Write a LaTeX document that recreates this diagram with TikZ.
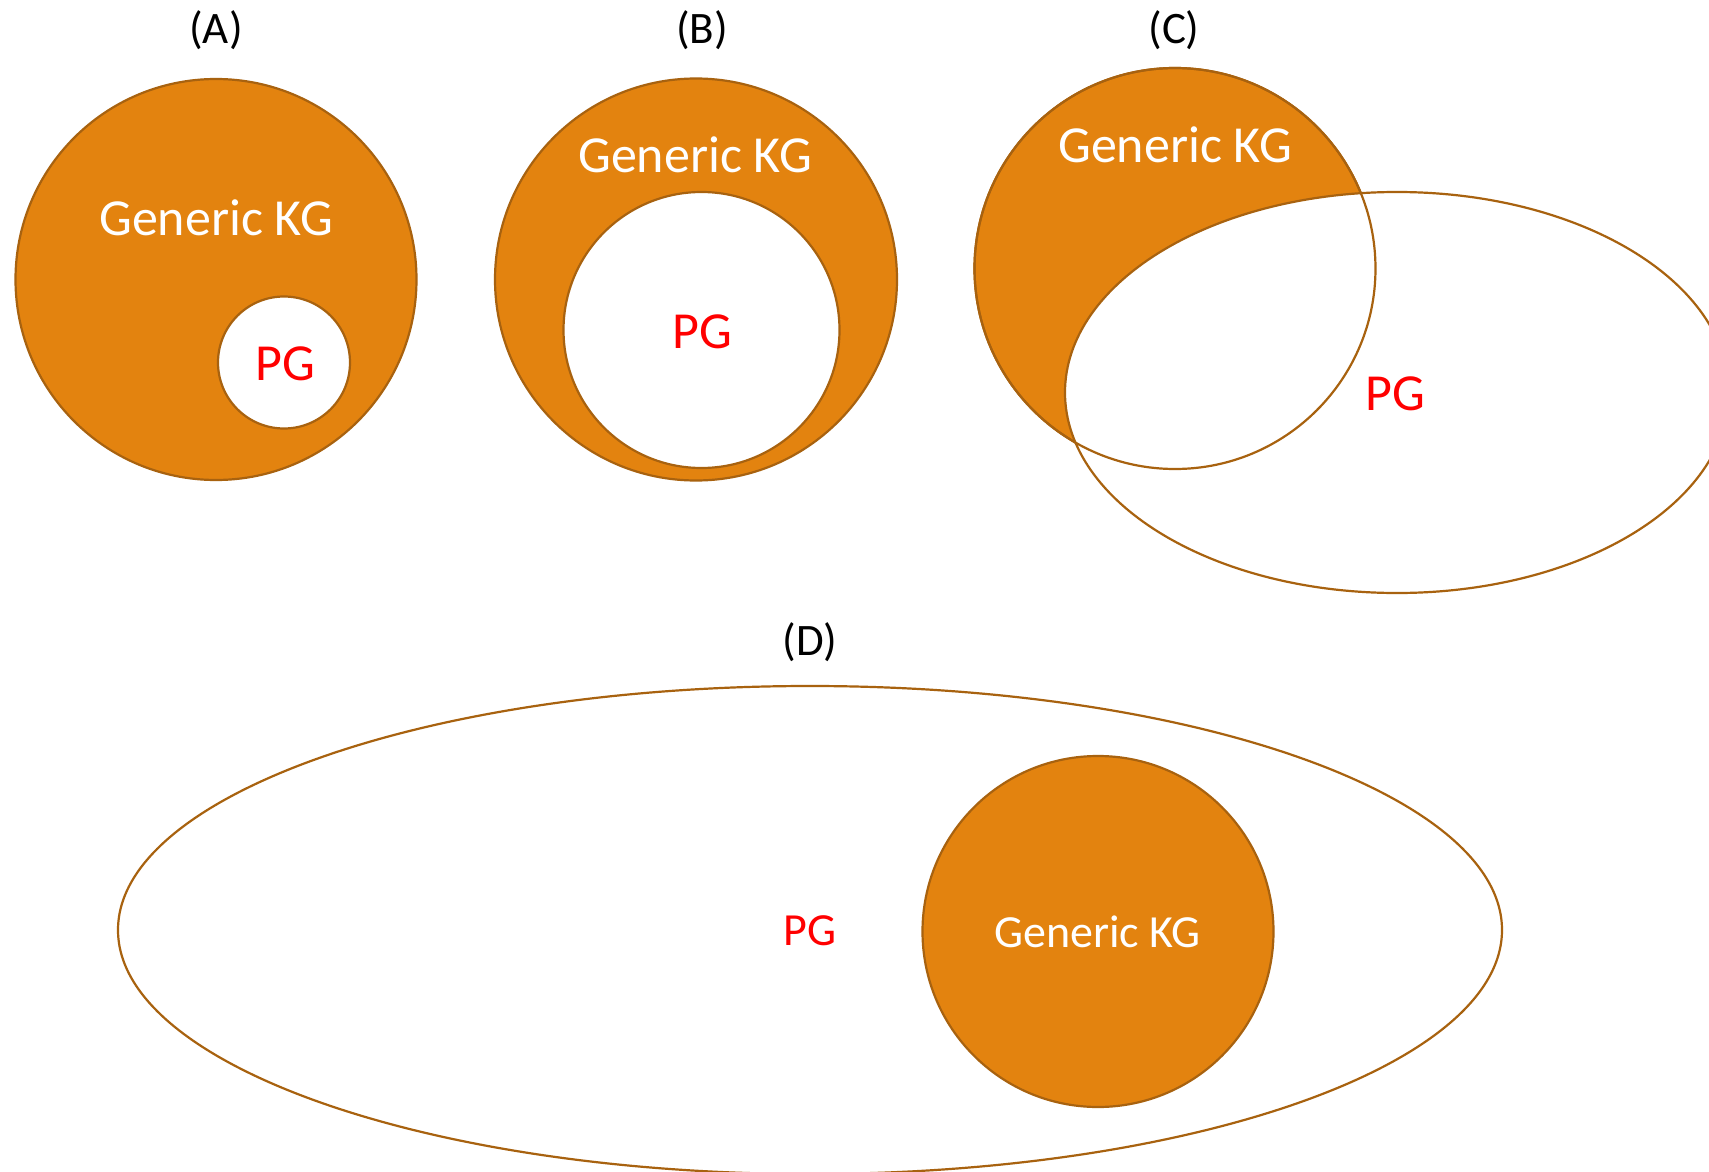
\documentclass[tikz,border=0pt]{standalone}
\usepackage{fontspec}
\setmainfont{Carlito}
\usetikzlibrary{shapes.geometric}

\definecolor{kgfill}{HTML}{E3830F}
\definecolor{kgline}{HTML}{A8620F}
\definecolor{pgred}{HTML}{FF0000}

\tikzset{
  outline/.style={draw=kgline, line width=2.2pt},
  kgdisc/.style={circle, outline, fill=kgfill, inner sep=0pt, minimum size=#1},
  pgdisc/.style={circle, outline, fill=white, inner sep=0pt, minimum size=#1},
  rim/.style={circle, outline, inner sep=0pt, minimum size=#1},
  pgoval/.style 2 args={ellipse, outline, fill=white, inner sep=0pt,
    minimum width=#1, minimum height=#2},
  kgtext/.style={text=white, inner sep=0pt, anchor=base,
    font=\fontsize{#1}{#1}\selectfont},
  pgtext/.style={text=pgred, inner sep=0pt, anchor=base,
    font=\fontsize{#1}{#1}\selectfont},
  caption/.style={text=black, inner sep=0pt,
    font=\fontsize{45}{45}\selectfont},
}

\begin{document}
\begin{tikzpicture}[x=1pt, y=-1pt]
  \useasboundingbox (0,0) rectangle (1709,1172);
  \fill[white] (0,0) rectangle (1709,1172);
  \clip (0,0) rectangle (1709,1172);

  % (A) a small PG inside the generic KG
  \node[caption] (capA) at (216,30) {(A)};
  \node[kgdisc=401pt] (kgA) at (216,279.5) {};
  \node[pgdisc=132pt] (pgA) at (284,362.5) {};
  \node[kgtext=52] (kgAlabel) at (216,235) {Generic KG};
  \node[pgtext=52] (pgAlabel) at (285,380) {PG};

  % (B) a large PG inside the generic KG
  \node[caption] (capB) at (702,30) {(B)};
  \node[kgdisc=402pt] (kgB) at (696,279.5) {};
  \node[pgdisc=276pt] (pgB) at (701.5,330) {};
  \node[kgtext=52] (kgBlabel) at (695,172) {Generic KG};
  \node[pgtext=52] (pgBlabel) at (702.5,348) {PG};

  % (C) PG and generic KG overlap
  \node[caption] (capC) at (1174,30) {(C)};
  \node[kgdisc=401pt] (kgC) at (1175,268.5) {};
  \node[pgoval={664pt}{401pt}] (pgC) at (1397,392.5) {};
  \node[rim=401pt] (kgCrim) at (kgC) {};
  \node[kgtext=52] (kgClabel) at (1175,162) {Generic KG};
  \node[pgtext=52] (pgClabel) at (1395.5,410) {PG};

  % (D) the generic KG inside a wide PG
  \node[caption] (capD) at (810,642) {(D)};
  \node[pgoval={1384pt}{488pt}] (pgD) at (810,930) {};
  \node[kgdisc=351pt] (kgD) at (1098,931.5) {};
  \node[pgtext=46] (pgDlabel) at (810,945) {PG};
  \node[kgtext=46] (kgDlabel) at (1097.5,947) {Generic KG};
\end{tikzpicture}
\end{document}
